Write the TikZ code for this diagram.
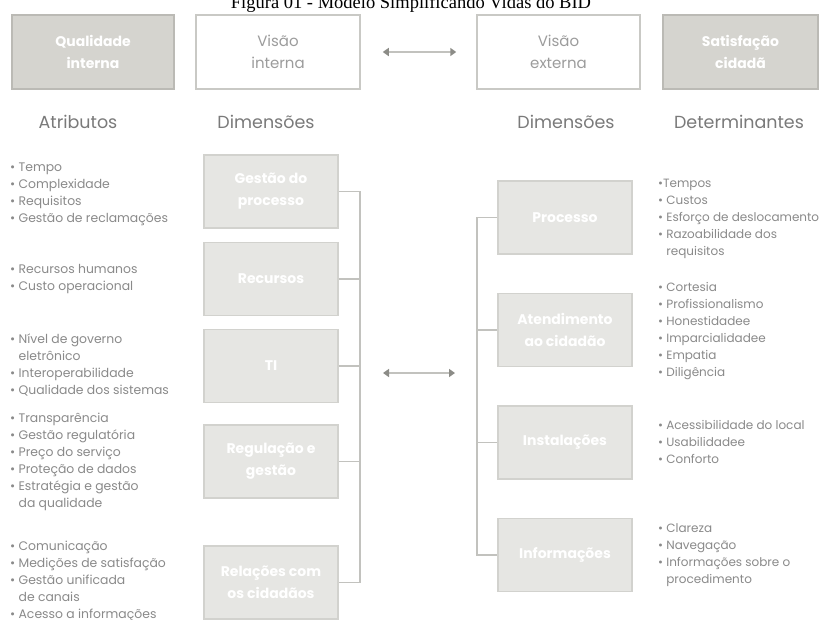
\documentclass[tikz,border=0pt]{standalone}
\usepackage{fontspec}
\setmainfont{Poppins}
\newfontfamily\titlefont{Liberation Serif}
\usetikzlibrary{arrows.meta}
\definecolor{topfill}{HTML}{D5D4CF}
\definecolor{topdraw}{HTML}{BBBAB5}
\definecolor{whdraw}{HTML}{C9C9C5}
\definecolor{dimfill}{HTML}{E6E6E3}
\definecolor{dimdraw}{HTML}{D2D2CE}
\definecolor{linec}{HTML}{C2C2BE}
\definecolor{tipc}{HTML}{8C8C87}
\definecolor{bulc}{HTML}{8A8A8A}
\definecolor{headc}{HTML}{7A7A7A}
\definecolor{visc}{HTML}{9C9C9C}
\newcommand\itemlist[5]{%
  \foreach \t [count=\i] in {#5} {
    \node[bul, font=\fontsize{#4}{14}\selectfont] (#1-\i) at (#2, #3+17*\i-17) {\t};
  }}
\begin{document}
\begin{tikzpicture}[x=1pt,y=-1pt,
  topgray/.style={draw=topdraw, fill=topfill, line width=1.3pt, minimum height=74pt, align=center, text=white, font=\bfseries\fontsize{14}{22}\selectfont},
  topwhite/.style={draw=whdraw, fill=white, line width=1.5pt, minimum height=74pt, align=center, text=visc, font=\fontsize{15}{22}\selectfont},
  dimbox/.style={draw=dimdraw, fill=dimfill, line width=1.2pt, minimum width=134pt, minimum height=73pt, align=center, text=white, font=\bfseries\fontsize{14}{22}\selectfont},
  head/.style={text=headc, font=\fontsize{17.5}{20}\selectfont, inner sep=0pt},
  bul/.style={anchor=base west, inner sep=0pt, text=bulc},
  conn/.style={draw=linec, line width=1.2pt},
  dbl/.style={draw=linec, line width=1.5pt, {Triangle[width=8pt,length=6pt,color=tipc]}-{Triangle[width=8pt,length=6pt,color=tipc]}}
]
\useasboundingbox[fill=white] (0,0) rectangle (822,619);
% title (top cut off as in the reference)
\node[anchor=base, inner sep=0pt, font=\titlefont\fontsize{18.5}{20}\selectfont] (title) at (411,8.5) {Figura 01 - Modelo Simplificando Vidas do BID};
% top row
\node[topgray, minimum width=162pt] (qi) at (93,52) {Qualidade\\interna};
\node[topwhite, minimum width=164pt] (vi) at (278,52) {Visão\\interna};
\node[topwhite, minimum width=163pt] (ve) at (558.5,52) {Visão\\externa};
\node[topgray, minimum width=155pt] (sc) at (740.5,52) {Satisfação\\cidadã};
\draw[dbl] ([xshift=22pt]vi.east) -- ([xshift=-20pt]ve.west);
% headers
\node[head] (h1) at (78,122) {Atributos};
\node[head] (h2) at (266,122) {Dimensões};
\node[head] (h3) at (566,122) {Dimensões};
\node[head] (h4) at (739,122) {Determinantes};
% left dimension boxes
\node[dimbox] (l1) at (271,191.5) {Gestão do\\processo};
\node[dimbox] (l2) at (271,279) {Recursos};
\node[dimbox] (l3) at (271,366) {TI};
\node[dimbox] (l4) at (271,461.5) {Regulação e\\gestão};
\node[dimbox] (l5) at (271,582.5) {Relações com\\os cidadãos};
% right dimension boxes
\node[dimbox] (r1) at (565,217.5) {Processo};
\node[dimbox] (r2) at (565,330) {Atendimento\\ao cidadão};
\node[dimbox] (r3) at (565,442.5) {Instalações};
\node[dimbox] (r4) at (565,555) {Informações};
% buses
\coordinate (lb1) at (360,191.5);
\coordinate (lb5) at (360,582.5);
\coordinate (rb1) at (477,217.5);
\coordinate (rb4) at (477,555);
\draw[conn] (l1.east) -- (lb1) -- (lb5) -- (l5.east);
\foreach \n in {l2,l3,l4} \draw[conn] (\n.east) -- (\n.east -| lb1);
\draw[conn] (r1.west) -- (rb1) -- (rb4) -- (r4.west);
\foreach \n in {r2,r3} \draw[conn] (\n.west) -- (\n.west -| rb1);
\coordinate (lm) at (383,373);
\coordinate (rm) at (455,373);
\draw[dbl] (lm) -- (rm);
% left attribute lists
\itemlist{a}{10}{171}{12.4}{{• Tempo},{• Complexidade},{• Requisitos},{• Gestão de reclamações}}
\itemlist{b}{10}{273}{12.4}{{• Recursos humanos},{• Custo operacional}}
\itemlist{c}{10}{343}{12.4}{{• Nível de governo},{\phantom{• }eletrônico},{• Interoperabilidade},{• Qualidade dos sistemas}}
\itemlist{d}{10}{422}{12.4}{{• Transparência},{• Gestão regulatória},{• Preço do serviço},{• Proteção de dados},{• Estratégia e gestão},{\phantom{• }da qualidade}}
\itemlist{e}{10}{550}{12.4}{{• Comunicação},{• Medições de satisfação},{• Gestão unificada},{\phantom{• }de canais},{• Acesso a informações}}
% right determinant lists
\itemlist{f}{658}{187}{12}{{•Tempos},{• Custos},{• Esforço de deslocamento},{• Razoabilidade dos},{\phantom{• }requisitos}}
\itemlist{g}{658}{291}{12}{{• Cortesia},{• Profissionalismo},{• Honestidadee},{• Imparcialidadee},{• Empatia},{• Diligência}}
\itemlist{h}{658}{429}{12}{{• Acessibilidade do local},{• Usabilidadee},{• Conforto}}
\itemlist{k}{658}{532}{12}{{• Clareza},{• Navegação},{• Informações sobre o},{\phantom{• }procedimento}}
\end{tikzpicture}
\end{document}
